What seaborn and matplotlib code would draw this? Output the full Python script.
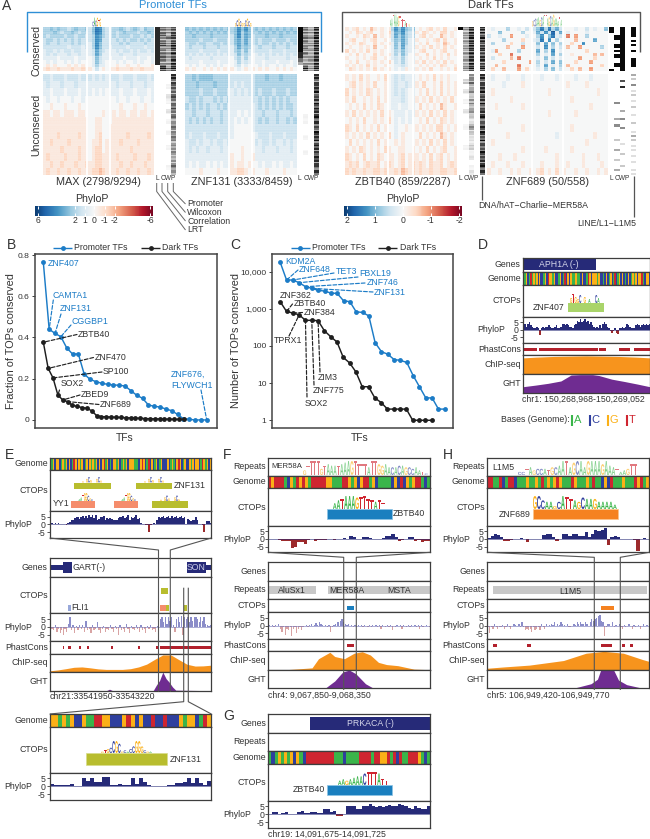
import numpy as np
import pandas as pd
import matplotlib
matplotlib.use("Agg")
import matplotlib.pyplot as plt
import seaborn as sns
from matplotlib.colors import ListedColormap
from matplotlib.textpath import TextPath
from matplotlib.patches import PathPatch
from matplotlib.transforms import Affine2D
from matplotlib.font_manager import FontProperties
from matplotlib.ticker import FixedLocator, NullLocator

# ------------------------------------------------------------ data: panel A
MAX_TOP = [
 "3343433234334" "2476322" "334323432433", "3334323343233" "2476322" "323433323343",
 "3233332332332" "2365322" "323332332323", "2332323232322" "2365222" "232323323232",
 "2322322232322" "1364222" "223232222322", "2222222122212" "1364221" "222212222122",
 "1221212212211" "1253211" "121221212212", "1212111211211" "1253111" "112111211111",
 "1111011110111" "0142110" "111011101101", "0101001010100" "0142100" "010100101001",
 "0a0a000a0a0a0" "0131100" "0a00a00a000a", "abaabaaabaaba" "a020a0a" "abaaabaabaaa"]
MAX_BOT = [
 "2212221222122" "2121212" "221222122212", "1211121112111" "1111111" "121112111211",
 "1101110111011" "1010101" "110111011101", "0100100010010" "0000000" "010010001001",
 "00a000a000a00" "0000000" "00a000a00a00", "aa0aa0aaa0aa0" "0000a00" "a0aa0aa0aa0a",
 "aaaaaaaaaaaaa" "00aa000" "aaaaaaaaaaaa", "aaaaaaaaaaaaa" "00aa00a" "aaaaaaaaaaaa",
 "aaaabaaaaabaa" "00ab00a" "aaaabaaaaaba", "aabaaaabaaaaa" "0aab0aa" "aabaaaabaaaa",
 "aaaaabaaaabaa" "0abb0aa" "aaaaabaaaaaa", "abaaaabaaabaa" "0abbaaa" "abaaaabaaaba",
 "aabaabaaabaab" "aabbaaa" "aabaabaaabaa", "abaabaabaabaa" "abbcbaa" "abaabaabaaba"]
Z131_TOP = [
 "4343434343434" "3464643" "434343434343", "3434343434343" "3463543" "343434343434",
 "3343333433333" "2463542" "333433343333", "3333233323332" "2453532" "323332333233",
 "2332332233232" "2453532" "323323232323", "2322232223222" "1353431" "232223222322",
 "2222122221222" "1342421" "222212221222", "2121212121212" "1242320" "121212121212",
 "1211111211111" "0231310" "111211111211", "1111011110111" "0131210" "110111011101",
 "0101001010100" "0120100" "010100101001", "a0a00a0a0a0a0" "a010a0a" "0a0a00a0a0a0"]
Z131_BOT = [
 "3343444433333" "2222222" "333433343333", "3334333343333" "2121222" "333333333333",
 "3333233323332" "1212122" "323332333233", "2332322232323" "1111112" "232323232322",
 "3232323223232" "1111111" "232323232332", "2232223222322" "1101011" "223222322232",
 "2323232322322" "1010101" "232322322323", "2222222222222" "1000001" "222222222222",
 "2122212221222" "1000000" "122212221222", "1221211212212" "0000000" "212212112121",
 "1212112111211" "000a000" "112111211121", "1111111111111" "a00a00a" "111111111111",
 "1010110101011" "a0aa0a0" "010110101101", "0000a0000a000" "aabba0a" "000a0000a000"]
ZB40_TOP = [
 "a0ab0a0ca0a0a" "3646434" "0a0ab0a0b00a", "0a0ba0ab00a0b" "2546323" "a0ba0a0bb0a0",
 "a00a0ba0c0a0a" "2535323" "0ab0a00ca0a0", "0ab00a0ab00a0" "2435312" "a00a0ab0b00a",
 "a0a0ba00b0a0a" "1425312" "0a0b00a0ca0a", "0a00a0a0c00a0" "1425212" "a0a0b0a0b0a0",
 "b0a0a0b0a0a00" "1324211" "0ab00a0ab00a", "0a0b0a00b0a0a" "1314201" "a00b0a0a0b0a",
 "a00a0a0ab00a0" "1213101" "0a0a0b0a0a00", "0a0b00a0a0a0b" "0213101" "a0b0a0a0b0a0",
 "a0a0a0b0a00a0" "0112100" "0a0a0a0ba00a", "0ba0a0a0b0a0a" "0101a01" "a0a0b00a0a0b"]
ZB40_BOT = [
 "a0a0b0a00a0b0" "1212111" "0a0a0b0a0a00", "0ab0a0a0b00a0" "1211211" "a0b00a0b0a0a",
 "b0a0a0ba0a0a0" "1212101" "0a0b0a0b0a0a", "a0b00a0a0b0a0" "1112101" "a0a0b0a0a0b0",
 "0a0a0b0a0ba00" "1101101" "0b0a0a0ca00a", "a0b0a0a0a0b0a" "0111011" "a0a0b0a0b0a0",
 "0a0a0b00a0a0b" "0101010" "0a0b0a0ba0a0", "ba0b0a0a0b0a0" "0100a00" "a0a0a0bb0a0a",
 "a0a0a0b0a0a0b" "010a000" "0b0a0a0ca0a0", "0b0a0a0a0b0a0" "0a0a000" "a0a0b0a0b0a0",
 "a0a0ba0a0a0ba" "00aa00a" "0a0b0a0ab00a", "ba0a0b0a0ba0a" "a0ab0aa" "a0a0b0ab0a0a",
 "abab0abaab0ab" "a0ab0ab" "aba0baab0aba", "babaabaabbaba" "abacbab" "abaabaabbaab"]
Z689_TOP = [
 "010003001020" "24737352" "000100201004", "000400000300" "15262815" "010000100000",
 "200100d00010" "03604712" "0e0d00300000", "000030000b00" "12706030" "000c00005000",
 "030000b00200" "04050403" "00b006000000", "00000c000d00" "02060302" "0c00d0000030",
 "01d000003000" "05030601" "000000b00000", "000b00e00000" "03010503" "00a00000c0c0",
 "020000c0e000" "01040201" "0000d000b000", "0000b000000d" "03020504" "000b000d0000",
 "00c00000e000" "02050103" "0c00000000b0", "0b00c000d0b0" "01030402" "00b0c00d0000"]
Z689_BOT = [
 "010001000100" "00100010" "000100010000", "000010000a00" "00000000" "0a0000a00000",
 "0a0000000000" "0000a000" "000000000a00", "000000a00000" "00000000" "00a000000000",
 "00a000000a00" "00000000" "0000000a0000", "000000000000" "0000a000" "000a00000000",
 "000a00000000" "00000000" "000000000000", "000000000a00" "00000000" "00a000000000",
 "00000a000000" "00000010" "00000000a000", "0a0000000000" "00000000" "000000a00000",
 "000000000a00" "000a0000" "00a000000000", "000a000a0000" "000000a0" "00000a000a00",
 "0a000a000a00" "00a000a0" "0a000a0000a0", "a00a00a0a00a" "0ab0a0b0" "a00a00a00a0a"]
ROW_BAND = [1.0,.93,1.06,.96,1.08,.92,1.03,.98,1.09,.94,1.0,1.05,.91,1.07,.96,1.03,.93,1.06,1.0,.95,1.09,.98,.92,1.05,1.0,.96,1.08,.93,1.03,1.06,.95,1.0,.91,1.07,.98,1.05,.93]
COL_BAND = [1.0,.98,1.02,.99,1.01,.98,1.02,1.0,.99,1.01,.98,1.02,.99,1.01,.98,1.02,1.0,.98,1.02,.99,1.01,.98,1.02]
STRIP_BAND = [1.0,.7,1.05,.85,.5,1.1,.95,.65,1.0,.8,1.1,.55,.9,1.05,.75,1.0,.6,1.1,.9,.7,1.05,.85,1.0,.5,.95,1.1,.8,.65,1.0]
MAX_S_TOP = ["8657","8657","8748","8567","8647","8758","8558","8647","8658","8757","8648","8558","0848","0868"]
MAX_S_BOT = ["0008","0007","0017","0006","0027","0016","0007","0026","0006","0015","0006","0015","0006","0005","0015","0005","0004","0005","0016","0005"]
Z131_S_TOP = ["9648","9658","9548","9658","9648","9558","9648","9558","8648","8558","6458","4558","0748","0858"]
Z131_S_BOT = ["0008","0007","0008","0008","0007","0008","0008","0008","0108","0108","0007","0008","0108","0008","0008","0107","0008","0008","0007","0008"]
ZB40_S_TOP = ["95808","04808","05807","04808","05808","04807","05808","04808","05807","04808","05808","04807","05808","05808"]
ZB40_S_BOT = ["00508","03607","00408","02508","00307","01508","00407","02508","00308","00207","01508","00308","00207","00208","01307","00108","00207","00008","00108","00208"]
Z689_S_TOP = ["90909","90909","90909","00909","09909","09900","00909","00900","09909","09900","00900","09909","00900","09900","09900","00909","00909","09909","09909","00900","90900"]
Z689_S_BOT = ["00004","00000","00003","00700","00000","00005","00800","00000","00002","00000","00003","00000","00000","00002","05000","00000","00003","00000","00400","00000",
              "00002","00000","04500","00000","00003","05000","00500","00000","00002","00000","00004","00000","03003","00000","00200","00002","00000","04002","00000","00300",
              "00002","00000","03000","00002","00000","00300","00000","04002","00000","00002"]

# ------------------------------------------------------------ data: panels B and C
B_PROMOTER = [.764,.44,.42,.404,.35,.32,.32,.223,.197,.186,.178,.173,.17,.168,.165,.142,.12,.105,.073,.066,.063,.053,.045,.027,.006,.003,0,0,0]
B_DARK = [.377,.25,.204,.121,.097,.089,.071,.066,.06,.057,.044,.021,.016,.015,.014,.013,.012,.011,.01,.009,.008,.007,.006,.005,.005,.004,.004,.003,.003,.003]
C_PROMOTER = [17800,5960,5960,5050,3940,3560,3140,3010,2660,2600,1650,1560,830,800,645,122,70,60,43,41,36,16,8,4,4,2,2]
C_DARK = [1550,850,770,690,490,490,480,257,178,128,49,35,20,8,8,4,3,2,2,2,2,1,1,1,1]
B_TICKS = [0,.2,.4,.6,.8]
B_TICKLABELS = ["0","0.2","0.4","0.6","0.8"]
C_TICKS = [1,10,100,1000,10000]
C_TICKLABELS = ["1","10","100","1,000","10,000"]

# ------------------------------------------------------------ data: tracks
D_SEQ = "GAGCATAGAGCGCCAGCTGGAGCCAGCATCGCGAAGGAACGCCATGCGGGAGCCACGCAGCATCAGCGCACGCAGAGCGGTACGGC"
E_SEQ_TOP = "GAGCGGCAGAGCGCATGCGAGCAGCGAGAGCGCGTAGCACGGAGCAGAGCGGGAAACGTGCATCGCAGCAGCCCGCAGACGTGCAGCCGAGCGGCATGAGCG"
E_SEQ_BOT = "GGAGAGCCGAATTGGCCCGTGCGCCTCCTCCCGAGGCATG"
F_SEQ = "TGTTTACGATGTGATTTTTGGAAATTGAGCGTTAGCAAAACGCTCGAGTTACA"
G_SEQ = "ACAGAGAGCGACTTTTTTTTTAAACAAAATTTTATTGGTATCTAATTTGACA"
H_SEQ = "TTAATCATTCAAAGAAGATAGAGTGAAATGAAAGATAACGCTAAAGAAATGTAG"

D_PHYLOP = [3,4,2,4,5,3,2,1,1,2,1,-3.5,1,2,1,2,2,3,2,1,1,2,3,1,1,2,4,4,3,4,3,2,2,1,3,4,6,5,7,5,6,7,5,6,4,5,3,2,1,2,1,3,1,4,5,4,2,1,-1,-2,-1,1,-2,-3,1,1,2,1,2,4,3,2,1,1,1,3,4,3,2,3,4,3,4,3,4]
E_TOP_PHYLOP = [.8,.8,.5,.7,.5,.7,.4,.5,.3,.2,-.2,.8,1.5,2.5,3,4,4.5,5,3.5,5,5.5,4,5.5,4,6,5,6,4,6,3,3.5,5,4.5,5.5,3,4,3.5,4,3.5,3,3,2.5,4,4.5,5,5.5,4,5,6,3,5,4,5,6,3.5,4,1,.3,0,-.2,-.5,-5,-.3,.3,.6,.3,3,5,4,4.5,5.5,4,5,5.5,4,5.5,4,5,5.5,4,5,5.5,4,5,.5,3.5,3,2,3,2.5,4.5,2.5,.5,.2,-.2,-5,.5,2,2,1]
E_BOT_PHYLOP = [1.5,1,1,1,1,1.5,0,.5,5,3.5,5,2.5,2.5,6,6,1,1,1.5,1,1,5,1.5,5,3,1,.5,0,0,.3,1,1,2,2,3,5,2,5,2,1,3.5]
F_TOP_PHYLOP = [.3,.2,-.3,-.8,-1.2,-1.5,-1,-5.5,-5,-2,-1.8,-3,-.5,0,-1,-.7,-.5,-.6,.2,.1,-.5,.3,.2,.5,.3,1.8,1.2,.3,.1,1,1.3,.5,-.2,-.1,.2,.5,2,2.2,3.5,1,-1,-.8,-.3,1.3,1.2,-1.5,-.5,-2,-1.5,-1]
G_PHYLOP = [0,1.5,1.5,0,1,1.5,0,0,.3,1.5,2,1,.5,1.5,1.2,1,.5,3,3,1.5,1.8,-1,-1.1,0,5.5,5.5,5,3,3.5,5,5.5,6.5,5,4.5,5,4.5,5.5,6,5.5,5.5,6.5,6,5,4,3.5,5.5,4,3,3.5,5.5]
H_TOP_PHYLOP = [.5,2,3,2.5,1,-1,-1,-.5,.3,.3,.5,.2,-2,-.1,.1,-.1,.1,2.5,3,3,1.5,-1,.3,3.5,3.5,2,3,3.5,2,2,4.5,1.5,3,6,5,5.5,7,-4,1.5,2,1.5,.3,-.3,.3,-.3,-.4,-8,.2,.5,.3]
E_MID_PHYLOP = [.5,-1,-2,1,-3,-1,-4,-2,-5,-1,-3,2,6,-2,1,-4,.5,-2,1,-1,1.5,-3,4,-2,-1,-4,1,-2,-1,3,-2,-4,-1,.5,-3,-1,-2,1,-1,-3,.5,-1,-5,1,-2,-1,-3,2,-1,-4,.5,-1,-2,1,-1,-3,1,-2,-1,-4,.5,-1,1,-2,-1,-3,.5,-1,5,6,3,6,2,6,4,6,1,-3,5,6,3,7,-5,6,5,6,3,6,4,6,6,5,3,6,4,6,2,1,.5,1]
F_MID_PHYLOP = [.5,-.5,.5,-1,.5,-.5,1,-2,-4,-1,-6,-2,-3,-1,-7,-2,-1,-5,-2,-1,-3,-1,-.5,.5,-1,.5,1,-.5,.5,1.5,.5,2,1,.5,-.5,.5,-1,.5,-4,-1,.5,1,2,2,3,4,2,1,.5,1,-.5,.5,-1,.5,-1,.5,-.5,.5,-1,.5,-.5,-1,.5,-1,.5,-.5,.5,-1,.5,-2,.5,-.5,-1,.5,-1,.5,-3,-.5,-1,.5,-.5,.5,-2,.5,-.5,-1,.5,-1,.5,-.5,.5,-1,.5,-2,.5,-1,-.5,.5,-.5,-1]
H_MID_PHYLOP = [-1,-5,-1,-2,1,-1,-2,-1,-1,.5,-2,-1,1,-1,-2,-.5,1,.5,-.5,1,-1,2,-1,-3,-2,-3,-2,-4,-1,-3,-2,-1,-3,1,-1,-2,1,-.5,.5,1,.5,2,-.5,1,.5,2,1,.5,-.5,1,-1,-1,-.5,1,.5,2,1,2,1,1,2,1,-.5,2,4,3,4,5,6,7,3,2,-7,-1,1,1,-.5,2,-1,.5,-.5,1,-1,-2,.5,-1,-.5,1,-.5,-2,.5,-1,-.5,.5,-2,-.5,1,-.5,.5,-.5]

D_PHAST = [(0,11.5),(12.8,59.4),(59.9,65.4),(75.4,84.3),(87.4,100)]
E_PHAST = [(8,9.1),(11.5,13),(18.4,19.4),(23.1,24.5),(38.1,39),(54.6,55.7),(66,67),(68.2,97.1),(97.3,100)]
F_PHAST = [(48.6,52.9)]
H_PHAST = [(3.7,5.8),(24.3,26.7),(70.2,77),(83.3,84.8),(88,89.9)]

D_CHIP_X = [0,10,25,50,75,90,100]
D_CHIP_Y = [.88,.92,.96,.99,.96,.92,.88]
D_GHT_X = [0,10,20,30,38,45,55,60,70,80,90,100]
D_GHT_Y = [.33,.42,.52,.65,.98,1,1,.95,.75,.62,.48,.33]
E_CHIP_X = [0,5,10,15,20,25,30,35,40,45,50,55,60,65,70,75,80,85,90,95,100]
E_CHIP_Y = [.05,.1,.17,.25,.27,.22,.16,.13,.13,.13,.17,.27,.43,.7,.95,.95,.68,.42,.32,.33,.37]
E_GHT_X = [0,35,37,39,64,66,68,70,72,74,76,78,100]
E_GHT_Y = [0,0,.08,0,0,.3,.55,1,.65,.45,.2,.03,0]
F_CHIP_X = [0,11,27,31,38,41,47,53,58,63,68,73,80,90,100]
F_CHIP_Y = [0,0,.1,.6,.95,.72,.6,.9,.98,.8,.4,.28,.22,.03,0]
F_GHT_X = [0,35,41,46,50,54,60,65,100]
F_GHT_Y = [0,0,.4,.9,1,.8,.25,0,0]
H_CHIP_X = [0,10,26,47,61,72,84,96,100]
H_CHIP_Y = [.08,.15,.25,.5,.9,1,.9,.55,.45]
H_GHT_X = [0,53,64,68,70,78,81,86,96,100]
H_GHT_Y = [0,0,.25,.5,1,1,.45,.2,0,0]

# ------------------------------------------------------------ styling & layout helpers
W, H = 650, 839
sns.set_style("white")
plt.rcParams["font.family"] = ["Liberation Sans", "DejaVu Sans"]
plt.rcParams["axes.unicode_minus"] = False
INK = "#333333"; EDGE = "#3d3d3d"
BLUE = "#1c7cc7"; NAVY = "#262a78"; DKRED = "#9c2a2c"
ORANGE = "#f7941d"; PURPLE = "#6f2c91"; OLIVE = "#b8bd2e"; SALMON = "#f58d6c"
LEAF = "#a9d46a"; STEEL = "#1a7fbf"; AMBER = "#f58220"; PHAST = "#b2202c"; GREY = "#c8c8c8"
BASES = {"A": "#3ab54a", "C": "#2f3f9e", "G": "#fbb017", "T": "#cf2530"}
BASE_ORDER = "ACGT"
FS = 6.35

fig = plt.figure(figsize=(W / 100, H / 100), dpi=100, facecolor="white")

def mkax(x0, y0, x1, y1, **kw):
    return fig.add_axes([x0 / W, 1 - y1 / H, (x1 - x0) / W, (y1 - y0) / H], **kw)

ov = mkax(0, 0, W, H, zorder=20)
ov.set_xlim(0, W); ov.set_ylim(H, 0); ov.axis("off"); ov.patch.set_alpha(0)

def txt(x, y, s, size=FS, color=INK, ha="left", va="center", **kw):
    return ov.text(x, y, s, fontsize=size, color=color, ha=ha, va=va, **kw)

def seg(xs, ys, color="#555555", lw=0.8, **kw):
    ov.plot(xs, ys, color=color, lw=lw, solid_capstyle="butt", **kw)

LOGO_FP = FontProperties(family="Liberation Sans", weight="bold")
def logo(x0, x1, base, h, seq, hts, alpha=1.0):
    w = (x1 - x0) / len(seq)
    for i, (c, ht) in enumerate(zip(seq, hts)):
        if c not in BASES or not ht.isdigit():
            continue
        tp = TextPath((0, 0), c, size=1, prop=LOGO_FP)
        bb = tp.get_extents()
        tr = (Affine2D().translate(-bb.x0, -bb.y0)
              .scale(w * .95 / bb.width, -(int(ht) / 9 * h) / bb.height)
              .translate(x0 + i * w, base))
        ov.add_patch(PathPatch(tr.transform_path(tp), fc=BASES[c], lw=0, alpha=alpha))

LEVELS = {**{str(d): d / 10 for d in range(10)}, **{c: -(i + 1) / 10 for i, c in enumerate("abcdefg")}}
def decode(rows):
    n = max(len(r) for r in rows)
    return np.array([[LEVELS[c] for c in r.ljust(n, r[-1])] for r in rows])

def heat(rows, x0, y0, x1, y1, gaps, rep=4):
    ax = mkax(x0, y0, x1, y1)
    m = np.repeat(np.repeat(decode(rows), rep, axis=0), 3, axis=1)
    rg = np.resize(ROW_BAND, m.shape[0])[:, None]
    cg = np.resize(COL_BAND, m.shape[1])[None, :]
    m = m * rg * cg
    sns.heatmap(m, ax=ax, cmap="RdBu", vmin=-1, vmax=1, cbar=False, xticklabels=False, yticklabels=False)
    for g in gaps:
        ax.axvline((g - x0) / (x1 - x0) * m.shape[1], color="white", lw=1.3)
    return ax

def strip(rows, x0, y0, x1, y1, rep=3, band=True):
    ax = mkax(x0, y0, x1, y1)
    m = np.array([[int(c) for c in r] for r in rows], float)
    if band:
        m = np.repeat(m, rep, axis=0)
        g = np.resize(STRIP_BAND, m.shape[0])
        m[:, 1:] = m[:, 1:] * g[:, None]
    sns.heatmap(m, ax=ax, cmap="Greys", vmin=0, vmax=9.3, cbar=False, xticklabels=False, yticklabels=False)
    return ax

def track(x0, y0, x1, y1):
    ax = mkax(x0, y0, x1, y1)
    ax.set_xticks([]); ax.set_yticks([])
    ax.set_xlim(0, 100)
    ax.set_ylim(y1, y0)
    for s in ax.spines.values():
        s.set_visible(True); s.set_linewidth(0.9); s.set_color(EDGE)
    return ax

def rowlabel(x, y0, y1, s):
    txt(x, (y0 + y1) / 2, s, ha="right")

def genome(seq, x0, y0, x1, y1):
    ax = mkax(x0, y0, x1, y1)
    m = np.array([[BASE_ORDER.index(c) for c in seq]])
    sns.heatmap(m, ax=ax, cmap=ListedColormap([BASES[b] for b in BASE_ORDER]), vmin=0, vmax=3,
                cbar=False, xticklabels=False, yticklabels=False)
    for s in ax.spines.values():
        s.set_visible(True); s.set_linewidth(0.9); s.set_color(EDGE)
    return ax

def phylop(vals, x0, y0, x1, y1, pale=False):
    ax = mkax(x0, y0, x1, y1)
    v = np.asarray(vals, float)
    pos = np.arange(len(v))
    colors = [("#8b8dc9" if pale else NAVY) if a >= 0 else ("#d8a3a3" if pale else DKRED) for a in v]
    ax.bar(pos, v, width=0.8 if pale else 1.0, color=colors, lw=0)
    ax.axhline(0, color="#6c6fb5" if pale else NAVY, lw=0.4)
    ax.set_xlim(-.5, len(v) - .5)
    ax.set_ylim(-8.6, 8.6)
    ax.set_xticks([])
    ax.set_yticks([5, 0, -5])
    ax.set_yticklabels(["5", "0", "-5"], fontsize=FS, color=INK)
    ax.tick_params(axis="y", length=2, width=.6, pad=1, left=True, color=EDGE)
    for s in ax.spines.values():
        s.set_visible(True); s.set_linewidth(0.9); s.set_color(EDGE)
    txt(x0 - 17.5, (y0 + y1) / 2, "PhyloP", ha="right")
    return ax

def blocks(ax, spans, ytop, ybot, color, edge=None):
    ax.broken_barh([(a, b - a) for a, b in spans], (ytop, ybot - ytop), facecolors=color,
                   edgecolor=edge if edge else "none", linewidth=0.5 if edge else 0)

def profile(xs, ys, x0, y0, x1, y1, color, label):
    ax = mkax(x0, y0, x1, y1)
    ax.fill_between(xs, 0, ys, color=color, lw=0)
    ax.set_xlim(0, 100); ax.set_ylim(0, 1.02)
    ax.set_xticks([]); ax.set_yticks([])
    for s in ax.spines.values():
        s.set_visible(True); s.set_linewidth(0.9); s.set_color(EDGE)
    rowlabel(x0 - 2, y0, y1, label)
    return ax

# ------------------------------------------------------------ panel A
heat(MAX_TOP, 43, 27, 154, 71, [87, 110]); heat(MAX_BOT, 43, 74, 154, 175, [87, 110], rep=7)
heat(Z131_TOP, 185, 27, 297, 71, [229, 252]); heat(Z131_BOT, 185, 74, 297, 175, [229, 252], rep=7)
heat(ZB40_TOP, 345, 27, 457, 71, [388, 413]); heat(ZB40_BOT, 345, 74, 457, 175, [388, 413], rep=7)
heat(Z689_TOP, 487, 27, 608, 71, [532, 563]); heat(Z689_BOT, 487, 74, 608, 175, [532, 563], rep=7)
strip(MAX_S_TOP, 155, 27, 176, 71); strip(MAX_S_BOT, 155, 74, 176, 175, rep=3)
strip(Z131_S_TOP, 297.5, 27, 319, 71); strip(Z131_S_BOT, 297.5, 74, 319, 175, rep=3)
strip(ZB40_S_TOP, 458, 27, 485, 71); strip(ZB40_S_BOT, 458, 74, 485, 175, rep=3)
strip(Z689_S_TOP, 609, 27, 636, 71, band=False); strip(Z689_S_BOT, 609, 74, 636, 175, band=False)

txt(2, 6, "A", size=10); txt(173, 5.5, "Promoter TFs", size=8, color="#2f8fd6", ha="center")
txt(490.7, 5.5, "Dark TFs", size=8, ha="center")
seg([26.5, 26.5, 320.7, 320.7], [52, 11.5, 11.5, 52], color="#2f8fd6", lw=1)
seg([341.7, 341.7, 640, 640], [52, 11.5, 11.5, 52], color="#555555", lw=1)
txt(36, 50, "Conserved", size=7.6, rotation=90, ha="center")
txt(36, 125, "Unconserved", size=7.6, rotation=90, ha="center")
for cx, s in [(98, "MAX (2798/9294)"), (241.7, "ZNF131 (3333/8459)"), (402.7, "ZBTB40 (859/2287)"), (547.7, "ZNF689 (50/558)")]:
    txt(cx, 182, s, size=7.8, ha="center")
for lx, cx in [(157, 168), (299.3, 311.5), (460, 471.5), (611.7, 622.3)]:
    txt(lx, 179, "L", size=4.8, ha="center"); txt(cx, 179, "CWP", size=4.8, ha="center")

for xa, ye, s, ty in [(156.7, 230, "LRT", 230), (162, 221, "Correlation", 221), (167.7, 212.5, "Wilcoxon", 212.5), (173.3, 204, "Promoter", 204)]:
    seg([xa, xa, 185.5], [183, 191.5, ye], color="#666666", lw=.7)
    txt(187, ty, s)
seg([482, 482], [176, 200], lw=.9); txt(478.3, 205.5, "DNA/hAT\u2212Charlie\u2212MER58A")
seg([633.7, 633.7], [176, 217], lw=.9); txt(636, 223, "LINE/L1\u2212L1M5", ha="right")

def colorbar(x0, x1, marks):
    ax = mkax(x0, 205.7, x1, 215.7)
    sns.heatmap(np.linspace(1, -1, 120)[None, :], ax=ax, cmap="RdBu", vmin=-1.05, vmax=1.05,
                cbar=False, xticklabels=False, yticklabels=False)
    txt((x0 + x1) / 2 - (2 if x0 < 100 else 0), 199, "PhyloP", size=7.6, ha="center")
    for x, s in marks:
        seg([x, x], [206, 208.5], color="white", lw=.7); seg([x, x], [213, 215.5], color="white", lw=.7)
        txt(x, 220.5, s, ha="center", size=6.2)
colorbar(35, 153.3, [(38, "6"), (75.3, "2"), (85, "1"), (94, "0"), (104.7, "-1"), (114.5, "-2"), (150.3, "-6")])
colorbar(344, 461.7, [(347, "2"), (375, "1"), (402.7, "0"), (430.7, "-1"), (459, "-2")])

logo(92.5, 101, 26.5, 9, "CACGTG", "596978")
logo(235, 243, 26.5, 8, "GCGCG", "47964")
logo(243.5, 251.5, 26.5, 8, "GCGCG", "47964")
logo(390, 410, 26.5, 12, "AATAAAGTTTTATTG", "569997885654332", alpha=.7)
logo(532, 562, 26.5, 12, "GCCAAGCATTAGCAGAAATA", "45667578996787966475", alpha=.7)

# ------------------------------------------------------------ panels B and C
def rank_frame(vals, span):
    return pd.DataFrame({"rank": np.linspace(0, span, len(vals)), "value": vals})

def rankax(x0, y0, x1, y1):
    ax = mkax(x0, y0, x1, y1)
    for s in ax.spines.values():
        s.set_visible(True); s.set_linewidth(1.1); s.set_color("#444444")
    return ax

def series(ax, vals, span, color):
    d = rank_frame(vals, span)
    sns.lineplot(data=d, x="rank", y="value", ax=ax, color=color, lw=1.05, marker="o", ms=3.5,
                 mew=0, estimator=None, sort=False, legend=False)
    return d

def note(ax, d, i, sx, sy, color):
    ax.annotate("", xy=(d["rank"][i], d["value"][i]), xycoords="data", xytext=(sx, sy), textcoords=ov.transData,
                arrowprops=dict(arrowstyle="-", linestyle=(0, (3.2, 1.6)), lw=.85, color=color, shrinkA=0, shrinkB=0),
                annotation_clip=False)

def finish_rank(ax, ylabel, lx):
    ax.set_xticks([])
    ax.set_xlabel("")
    ax.set_ylabel(ylabel, fontsize=7.8, color=INK)
    ax.yaxis.set_label_coords(lx, .5)
    ax.tick_params(axis="y", left=True, length=2.5, width=.7, labelsize=6.1, labelcolor=INK, pad=1.5, color=EDGE)

axb = rankax(35, 254, 217, 428)
bp = series(axb, B_PROMOTER, 1, BLUE); bd = series(axb, B_DARK, .86, "#1e1e1e")
finish_rank(axb, "Fraction of TOPs conserved", -.104)
axb.set_xlim(-.051, 1.063); axb.set_ylim(-.039, .805)
axb.set_yticks(B_TICKS); axb.set_yticklabels(B_TICKLABELS)
txt(125, 438, "TFs", size=7.4, ha="center")

axc = rankax(272, 254, 453, 428)
axc.set_yscale("log")
cp = series(axc, C_PROMOTER, 1, BLUE); cd = series(axc, C_DARK, .92, "#1e1e1e")
finish_rank(axc, "Number of TOPs conserved", -.173)
axc.set_xlim(-.05, 1.05); axc.set_ylim(.62, 29900)
axc.yaxis.set_major_locator(FixedLocator(C_TICKS)); axc.yaxis.set_minor_locator(NullLocator())
axc.set_yticklabels(C_TICKLABELS)
txt(360, 438, "TFs", size=7.4, ha="center")

for i, sx, sy, tx, ty, s in [(1, 53.3, 300, 52.7, 295.7, "CAMTA1"), (2, 61, 314, 60, 308.7, "ZNF131"), (3, 71, 325, 72, 321, "CGGBP1")]:
    note(axb, bp, i, sx, sy, BLUE); txt(tx, ty, s, color=BLUE)
txt(47.3, 263, "ZNF407", color=BLUE)
for i, sx, sy, tx, ty, s in [(0, 77, 334.5, 77.7, 334.3, "ZBTB40"), (1, 93.5, 357.5, 94.3, 357.3, "ZNF470"),
                             (2, 102, 372, 102.7, 371.7, "SP100"), (3, 59.5, 390, 61, 384, "SOX2"),
                             (4, 80, 395, 81, 394.3, "ZBED9"), (5, 99, 404.5, 100, 404.3, "ZNF689")]:
    note(axb, bd, i, sx, sy, "#222222"); txt(tx, ty, s)
note(axb, bp, 28, 201, 390, BLUE)
txt(171, 374, "ZNF676,", color=BLUE); txt(171, 385.3, "FLYWCH1", color=BLUE)

txt(285.7, 261.7, "KDM2A", color=BLUE); txt(279.3, 295, "ZNF362")
for i, sx, sy, tx, ty, s in [(1, 298, 270, 299, 270, "ZNF648"), (2, 334, 273, 335.7, 271, "TET3"), (3, 358, 277, 359, 273.7, "FBXL19"),
                             (4, 365, 283, 366.3, 282.3, "ZNF746"), (5, 373, 292, 374, 292.7, "ZNF131")]:
    note(axc, cp, i, sx, sy, BLUE); txt(tx, ty, s, color=BLUE)
for i, sx, sy, tx, ty, s in [(1, 292.5, 304, 293.7, 303.7, "ZBTB40"), (2, 302.5, 312.5, 303.7, 312.3, "ZNF384"), (3, 289, 336, 274.3, 340.3, "TPRX1"),
                             (6, 320, 372, 317.7, 377.7, "ZIM3"), (5, 314, 385, 312.3, 390.3, "ZNF775"), (4, 307, 397, 305, 403.7, "SOX2")]:
    note(axc, cd, i, sx, sy, "#222222"); txt(tx, ty, s)

for lx0, tx, col, s in [(53.3, 74, BLUE, "Promoter TFs"), (141.3, 162, "#222222", "Dark TFs"),
                        (291, 312, BLUE, "Promoter TFs"), (378.3, 399.7, "#222222", "Dark TFs")]:
    ov.plot([lx0, lx0 + 18.5], [247.7, 247.7], color=col, lw=1, marker="", solid_capstyle="butt")
    ov.plot([lx0 + 9.3], [247.7], color=col, marker="o", ms=3.5, mew=0)
    txt(tx, 247.7, s, color="#333333")
txt(6.5, 245, "B", size=10); txt(230, 245, "C", size=10); txt(478, 245, "D", size=10)
txt(5, 455, "E", size=10); txt(223, 455, "F", size=10); txt(223, 716, "G", size=10); txt(443, 455, "H", size=10)

# ------------------------------------------------------------ panel D
X0, X1 = 522.7, 650
g = track(X0, 257.7, X1, 272); blocks(g, [(0, 57.2)], 258.5, 270.5, NAVY); rowlabel(X0 - 2, 257.7, 271, "Genes")
txt(559, 264.5, "APH1A (-)", color="#d5d6ea", ha="center")
genome(D_SEQ, X0, 272, X1, 285); rowlabel(X0 - 2, 272, 285, "Genome")
c = track(X0, 285, X1, 316.7); blocks(c, [(35.3, 64.1)], 303, 311.7, LEAF); rowlabel(X0 - 2, 300.7, 300.7, "CTOPs")
txt(533, 307.5, "ZNF407"); logo(570, 602, 303, 9, "GTGGCAGAACTCAG", "59648.6.4..85.")
phylop(D_PHYLOP, X0, 316.7, X1, 342.7)
p = track(X0, 342.7, X1, 355.3); blocks(p, D_PHAST, 348, 351.2, PHAST); rowlabel(X0 - 2, 343, 355, "PhastCons")
profile(D_CHIP_X, D_CHIP_Y, X0, 355.3, X1, 374.3, ORANGE, "ChIP-seq")
profile(D_GHT_X, D_GHT_Y, X0, 374.3, X1, 392.7, PURPLE, "GHT")
txt(X0 - 0.5, 399, "chr1: 150,268,968-150,269,052")
txt(501, 420, "Bases (Genome):")
for bx, b in [(572.3, "A"), (590, "C"), (608.3, "G"), (626.7, "T")]:
    seg([bx, bx], [414.5, 425.5], color=BASES[b], lw=1.5)
    txt(bx + 1.7, 420, b, size=8, color=BASES[b])

# ------------------------------------------------------------ panel E
X0, X1 = 49.7, 211.3
genome(E_SEQ_TOP, X0, 457.7, X1, 469.7); rowlabel(X0 - 2, 458, 470, "Genome")
c = track(X0, 469.7, X1, 511)
blocks(c, [(15.2, 37.7), (53.4, 75.5)], 482.7, 488.7, OLIVE)
blocks(c, [(63.3, 85.8)], 501, 507.7, OLIVE); blocks(c, [(13.4, 28), (40, 54.6)], 501, 507.7, SALMON)
rowlabel(X0 - 2, 490.7, 490.7, "CTOPs")
txt(173.3, 485, "ZNF131"); txt(53.3, 504, "YY1")
for a, b in [(82, 102), (144, 164), (160, 180)]:
    base = 482.5 if a != 160 else 501
    logo(a, b, base, 5.5, "GTGCGCTGCG", "24694.2693")
for a, b in [(78.5, 93), (121.5, 136)]:
    logo(a, b, 501, 8, "AATGGCGC", "24799632")
phylop(E_TOP_PHYLOP, X0, 511, X1, 537.7)

g = track(X0, 558.3, X1, 577); rowlabel(X0 - 2, 558, 577, "Genes")
blocks(g, [(0, 8.5), (96.5, 100)], 565, 570.3, NAVY); blocks(g, [(8, 13.5), (85, 96.5)], 561.7, 573.3, NAVY)
txt(72.5, 568, "GART(-)"); txt(196.3, 568, "SON", color="#c8cae6", ha="center")
c = track(X0, 577, X1, 613.3); rowlabel(X0 - 2, 577, 613, "CTOPs")
blocks(c, [(68.7, 71.2), (71.3, 73.4)], 588.3, 593.7, OLIVE)
blocks(c, [(11.1, 13)], 605, 610.7, "#98a8da"); blocks(c, [(68.3, 72)], 605, 610.7, SALMON)
blocks(c, [(72, 74), (82.9, 85.1)], 605, 610.7, OLIVE)
txt(71.5, 607.8, "FLI1")
phylop(E_MID_PHYLOP, X0, 613.3, X1, 640.7, pale=True)
p = track(X0, 640.7, X1, 653.7); blocks(p, E_PHAST, 645.5, 649, PHAST); rowlabel(X0 - 2, 641, 654, "PhastCons")
profile(E_CHIP_X, E_CHIP_Y, X0, 653.7, X1, 671.7, ORANGE, "ChIP-seq")
profile(E_GHT_X, E_GHT_Y, X0, 671.7, X1, 690.7, PURPLE, "GHT")
txt(X0, 696.7, "chr21:33541950-33543220")

genome(E_SEQ_BOT, X0, 714.3, X1, 726.7); rowlabel(X0 - 2, 714, 727, "Genome")
c = track(X0, 726.7, X1, 772.7); blocks(c, [(22.5, 72.4)], 753.3, 765, OLIVE, edge="#d8dc8a")
rowlabel(X0 - 2, 750, 750, "CTOPs"); txt(170, 759, "ZNF131")
logo(101, 152, 753, 12, "GTGCCGCGCACCGGGCGA", "123499712135995211")
phylop(E_BOT_PHYLOP, X0, 772.7, X1, 800)

seg([X0, 158.5, 158.5], [538, 550, 691.7]); seg([X1, 170.3, 170.3], [538, 550, 691.7])
seg([183.7, 183.7, X0], [587.7, 701.7, 714]); seg([188.3, 188.3, X1], [587.7, 701.7, 714])

# ------------------------------------------------------------ panel F
X0, X1 = 268.3, 430.3
r = track(X0, 457.7, X1, 475.7); rowlabel(X0 - 2, 458, 475, "Repeats"); txt(271, 467, "MER58A", size=5.6)
logo(303, 428, 475, 14, "GTTTTGTAAATAAAGTTTTATTGGAACACAGCCAATC", "3699946766678999777599767555665545321", alpha=.62)
genome(F_SEQ, X0, 475.7, X1, 488.3); rowlabel(X0 - 2, 476, 488, "Genome")
c = track(X0, 488.3, X1, 525.7); blocks(c, [(36, 76.1)], 509, 519, STEEL, edge="#8cc4e6")
rowlabel(X0 - 2, 507, 507, "CTOPs"); txt(393, 514, "ZBTB40")
logo(333, 385, 509, 13, "AATAAAGTTTTATT", "46799988976564")
phylop(F_TOP_PHYLOP, X0, 525.7, X1, 552.3)

track(X0, 562.3, X1, 580.7); rowlabel(X0 - 2, 562, 581, "Genes")
r = track(X0, 580.7, X1, 599); rowlabel(X0 - 2, 581, 599, "Repeats")
blocks(r, [(0, 29.4), (37, 100)], 586, 594.3, GREY)
for cx, s in [(14.8, "AluSx1"), (48.6, "MER58A"), (80.7, "MSTA")]:
    txt(X0 + cx * 1.62, 590.5, s, ha="center")
c = track(X0, 599, X1, 612); blocks(c, [(48.6, 52.9)], 606.3, 610, STEEL); rowlabel(X0 - 2, 599, 612, "CTOPs")
phylop(F_MID_PHYLOP, X0, 612, X1, 639, pale=True)
p = track(X0, 639, X1, 651); blocks(p, F_PHAST, 643.5, 647, PHAST); rowlabel(X0 - 2, 639, 651, "PhastCons")
profile(F_CHIP_X, F_CHIP_Y, X0, 651, X1, 669.7, ORANGE, "ChIP-seq")
profile(F_GHT_X, F_GHT_Y, X0, 669.7, X1, 688.3, PURPLE, "GHT")
txt(X0, 695.3, "chr4: 9,067,850-9,068,350")
seg([X0, 343.7, 343.7], [552.3, 557.3, 690]); seg([X1, 356.3, 356.3], [552.3, 557.3, 690])

# ------------------------------------------------------------ panel G
g = track(X0, 714.3, X1, 732.7); blocks(g, [(25.7, 100)], 717.3, 730, NAVY); rowlabel(X0 - 2, 714, 733, "Genes")
txt(370.5, 724, "PRKACA (-)", color="#d5d6ea", ha="center")
track(X0, 732.7, X1, 751); rowlabel(X0 - 2, 733, 751, "Repeats")
genome(G_SEQ, X0, 751, X1, 763.7); rowlabel(X0 - 2, 751, 764, "Genome")
c = track(X0, 763.7, X1, 800.7); blocks(c, [(36, 76.1)], 785, 795, STEEL, edge="#8cc4e6")
rowlabel(X0 - 2, 782.7, 782.7, "CTOPs"); txt(325, 790, "ZBTB40", ha="right")
logo(338, 388, 785, 13, "AAGAAAACTTTATT", "34345668999843")
phylop(G_PHYLOP, X0, 800.7, X1, 827.7)
txt(X0, 834, "chr19: 14,091,675-14,091,725")

# ------------------------------------------------------------ panel H
X0, X1 = 487.3, 649.3
r = track(X0, 457.7, X1, 475.7); rowlabel(X0 - 2, 458, 475, "Repeats"); txt(492.7, 467, "L1M5")
logo(518, 637, 475, 14, "CCTAGCCATGCAATAGCAAGAAAGAAATAAGTT", "224534443556995899599997965423477", alpha=.62)
genome(H_SEQ, X0, 475.7, X1, 488.3); rowlabel(X0 - 2, 476, 488, "Genome")
c = track(X0, 488.3, X1, 525.7); blocks(c, [(28, 80.5)], 509, 519, AMBER, edge="#fbc58c")
rowlabel(X0 - 2, 507, 507, "CTOPs"); txt(530.5, 514.5, "ZNF689", ha="right")
logo(533, 617, 509, 13, "GCCAAGCATTAGCAAGAAAAA", "996552598765877755553")
phylop(H_TOP_PHYLOP, X0, 525.7, X1, 552.3)

track(X0, 562.3, X1, 580.7); rowlabel(X0 - 2, 562, 581, "Genes")
r = track(X0, 580.7, X1, 599); rowlabel(X0 - 2, 581, 599, "Repeats")
blocks(r, [(3.7, 98.6)], 586, 594.3, GREY); txt(X0 + 51 * 1.62, 591, "L1M5", ha="center")
c = track(X0, 599, X1, 612); blocks(c, [(70, 78.2)], 606, 610, AMBER); rowlabel(X0 - 2, 599, 612, "CTOPs")
phylop(H_MID_PHYLOP, X0, 612, X1, 639, pale=True)
p = track(X0, 639, X1, 651); blocks(p, H_PHAST, 643.5, 647, PHAST); rowlabel(X0 - 2, 639, 651, "PhastCons")
profile(H_CHIP_X, H_CHIP_Y, X0, 651, X1, 669.7, ORANGE, "ChIP-seq")
profile(H_GHT_X, H_GHT_Y, X0, 669.7, X1, 688.3, PURPLE, "GHT")
txt(X0, 695.7, "chr5: 106,949,420-106,949,770")
seg([X0, 594.3, 594.3], [552.3, 557.3, 690]); seg([X1, 620.3, 620.3], [552.3, 557.3, 690])

fig.savefig("out.png", dpi=100, facecolor="white")
